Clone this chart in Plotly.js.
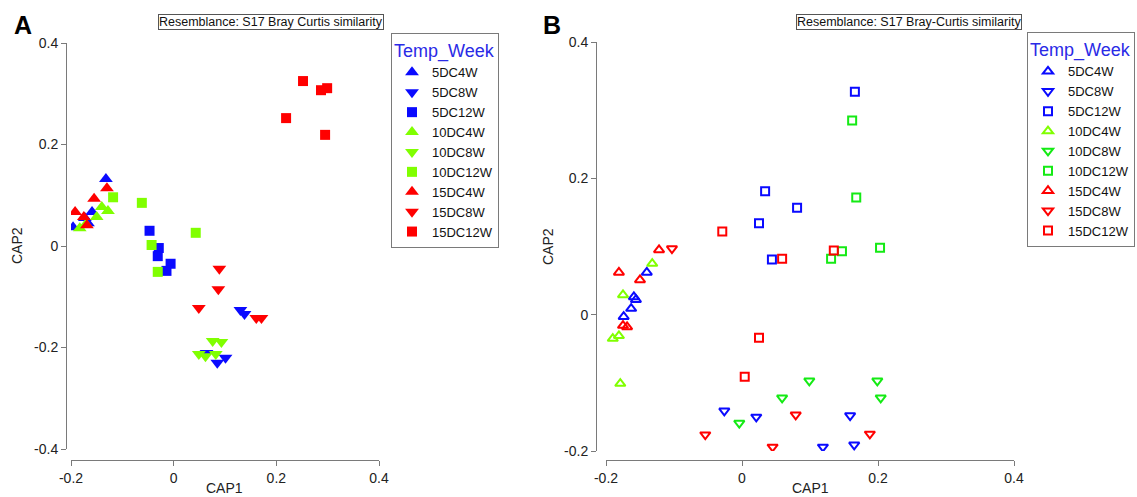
<!DOCTYPE html>
<html><head><meta charset="utf-8">
<script src="https://cdn.plot.ly/plotly-3.0.1.min.js"></script>
<style>html,body{margin:0;padding:0;background:#fff}#chart{width:1137px;height:497px}</style>
</head><body><div id="chart"></div>
<script>
const groups = ['5DC4W','5DC8W','5DC12W','10DC4W','10DC8W','10DC12W','15DC4W','15DC8W','15DC12W'];
const tickValsA = [-0.4,-0.2,0,0.2,0.4];
const tickTextA = ['-0.4','-0.2','0','0.2','0.4'];
const tickValsB = [-0.2,0,0.2,0.4];
const tickTextB = ['-0.2','0','0.2','0.4'];
const xTickVals = [-0.2,0,0.2,0.4];
const xTickText = ['-0.2','0','0.2','0.4'];

// Panel A (CAP1, CAP2) per group
const capA1 = [
 [-0.132,-0.159,-0.167,-0.196,-0.173],
 [0.130,0.138,0.064,0.085,0.101],
 [-0.047,-0.029,-0.031,-0.006,-0.014],
 [-0.183,-0.171,-0.150,-0.140,-0.128],
 [0.076,0.093,0.049,0.082,0.062],
 [-0.118,-0.062,0.043,-0.043,-0.031],
 [-0.130,-0.155,-0.192,-0.175,-0.169],
 [0.089,0.087,0.049,0.161,0.171],
 [0.252,0.287,0.299,0.219,0.295]
];
const capA2 = [
 [0.132,0.067,0.045,0.037,0.055],
 [-0.126,-0.134,-0.211,-0.230,-0.220],
 [0.030,-0.004,-0.020,-0.035,-0.049],
 [0.035,0.043,0.057,0.077,0.069],
 [-0.187,-0.189,-0.213,-0.213,-0.217],
 [0.096,0.085,0.026,0.002,-0.051],
 [0.114,0.093,0.067,0.057,0.041],
 [-0.045,-0.085,-0.122,-0.142,-0.142],
 [0.325,0.307,0.311,0.252,0.219]
];
// Panel B (CAP1, CAP2) per group
const capB1 = [
 [-0.140,-0.159,-0.156,-0.163,-0.174],
 [-0.026,0.021,0.159,0.119,0.165],
 [0.166,0.034,0.081,0.025,0.044],
 [-0.132,-0.175,-0.181,-0.190,-0.179],
 [0.099,0.199,0.204,0.059,-0.004],
 [0.162,0.168,0.203,0.147,0.131],
 [-0.122,-0.181,-0.150,-0.175,-0.169],
 [-0.103,0.079,-0.054,0.045,0.188],
 [-0.029,0.135,0.059,0.025,0.004]
];
const capB2 = [
 [0.062,0.026,0.022,0.009,-0.003],
 [-0.141,-0.150,-0.148,-0.194,-0.191],
 [0.327,0.181,0.157,0.134,0.081],
 [0.075,0.029,-0.031,-0.035,-0.101],
 [-0.097,-0.097,-0.122,-0.122,-0.159],
 [0.285,0.172,0.098,0.093,0.082],
 [0.095,0.062,0.051,-0.016,-0.018],
 [0.097,-0.147,-0.176,-0.194,-0.175],
 [0.122,0.094,0.082,-0.034,-0.091]
];

const BLUE='#0a0aff', LIME='#80ff00', GREEN='#14ea14', RED='#ff0000';
const colorsA=[BLUE,BLUE,BLUE,LIME,LIME,LIME,RED,RED,RED];
const colorsB=[BLUE,BLUE,BLUE,LIME,GREEN,GREEN,RED,RED,RED];
const shapes=['triangle-up','triangle-down','square'];

const W=1137,H=497;
const fx=p=>p/W, fy=p=>1-p/H;
const FONT='Arial, "Liberation Sans", sans-serif';

const traces=[];
groups.forEach((g,i)=>{
  const sym=shapes[i%3];
  traces.push({type:'scatter',mode:'markers',name:g,x:capA1[i],y:capA2[i],xaxis:'x',yaxis:'y',legend:'legend',
    marker:{symbol:sym,color:colorsA[i],size:sym==='square'?10:12,line:{width:0}},hoverinfo:'x+y+name'});
});
groups.forEach((g,i)=>{
  const sym=shapes[i%3]+'-open';
  traces.push({type:'scatter',mode:'markers',name:g,x:capB1[i],y:capB2[i],xaxis:'x2',yaxis:'y2',legend:'legend2',
    marker:{symbol:sym,color:colorsB[i],size:sym==='square-open'?8:9,line:{width:2,color:colorsB[i]}},hoverinfo:'x+y+name'});
});

const axBase={showgrid:false,zeroline:false,showline:true,linecolor:'#7a7a7a',linewidth:1,
  ticks:'outside',ticklen:5,tickcolor:'#7a7a7a',tickfont:{family:FONT,size:14,color:'#222'},tickmode:'array'};

const legBase={bgcolor:'#fff',bordercolor:'#7a7a7a',borderwidth:1,xanchor:'left',yanchor:'top',
  font:{family:FONT,size:13,color:'#111'},tracegroupgap:0,itemwidth:30,
  title:{text:'Temp_Week',font:{family:FONT,size:18,color:'#2a2ae6'}}};

const ann=(t,x,y,o)=>Object.assign({text:t,xref:'paper',yref:'paper',x:fx(x),y:fy(y),showarrow:false,
  xanchor:'center',yanchor:'middle',font:{family:FONT,size:14,color:'#222'}},o||{});

const layout={
  width:W,height:H,margin:{l:0,r:0,t:0,b:0,autoexpand:false},paper_bgcolor:'#fff',plot_bgcolor:'#fff',
  showlegend:true,
  xaxis:Object.assign({},axBase,{domain:[fx(71),fx(379)],range:[-0.2,0.4],anchor:'free',position:1-460/H,tickvals:xTickVals,ticktext:xTickText}),
  yaxis:Object.assign({},axBase,{domain:[1-449/H,1-43/H],range:[-0.4,0.4],anchor:'free',position:fx(66),tickvals:tickValsA,ticktext:tickTextA}),
  xaxis2:Object.assign({},axBase,{domain:[fx(606),fx(1014)],range:[-0.2,0.4],anchor:'free',position:1-460/H,tickvals:xTickVals,ticktext:xTickText}),
  yaxis2:Object.assign({},axBase,{domain:[1-451/H,1-42/H],range:[-0.2,0.4],anchor:'free',position:fx(596),tickvals:tickValsB,ticktext:tickTextB}),
  legend:Object.assign({},legBase,{x:fx(391),y:fy(33)}),
  legend2:Object.assign({},legBase,{x:fx(1027),y:fy(32)}),
  annotations:[
    ann('A',23,25,{font:{family:FONT,size:25,color:'#000',weight:'bold'}}),
    ann('B',552,25,{font:{family:FONT,size:25,color:'#000',weight:'bold'}}),
    ann('Resemblance: S17 Bray Curtis similarity',271,21.5,{font:{family:FONT,size:12.5,color:'#111'},bordercolor:'#555',borderwidth:1,borderpad:0,bgcolor:'#fff'}),
    ann('Resemblance: S17 Bray-Curtis similarity',909,21.5,{font:{family:FONT,size:12.5,color:'#111'},bordercolor:'#555',borderwidth:1,borderpad:0,bgcolor:'#fff'}),
    ann('CAP1',225,488),
    ann('CAP1',810,488),
    ann('CAP2',17,246,{textangle:-90}),
    ann('CAP2',548,247,{textangle:-90})
  ]
};
Plotly.newPlot('chart',traces,layout,{displayModeBar:false,staticPlot:true});
</script>
</body></html>
